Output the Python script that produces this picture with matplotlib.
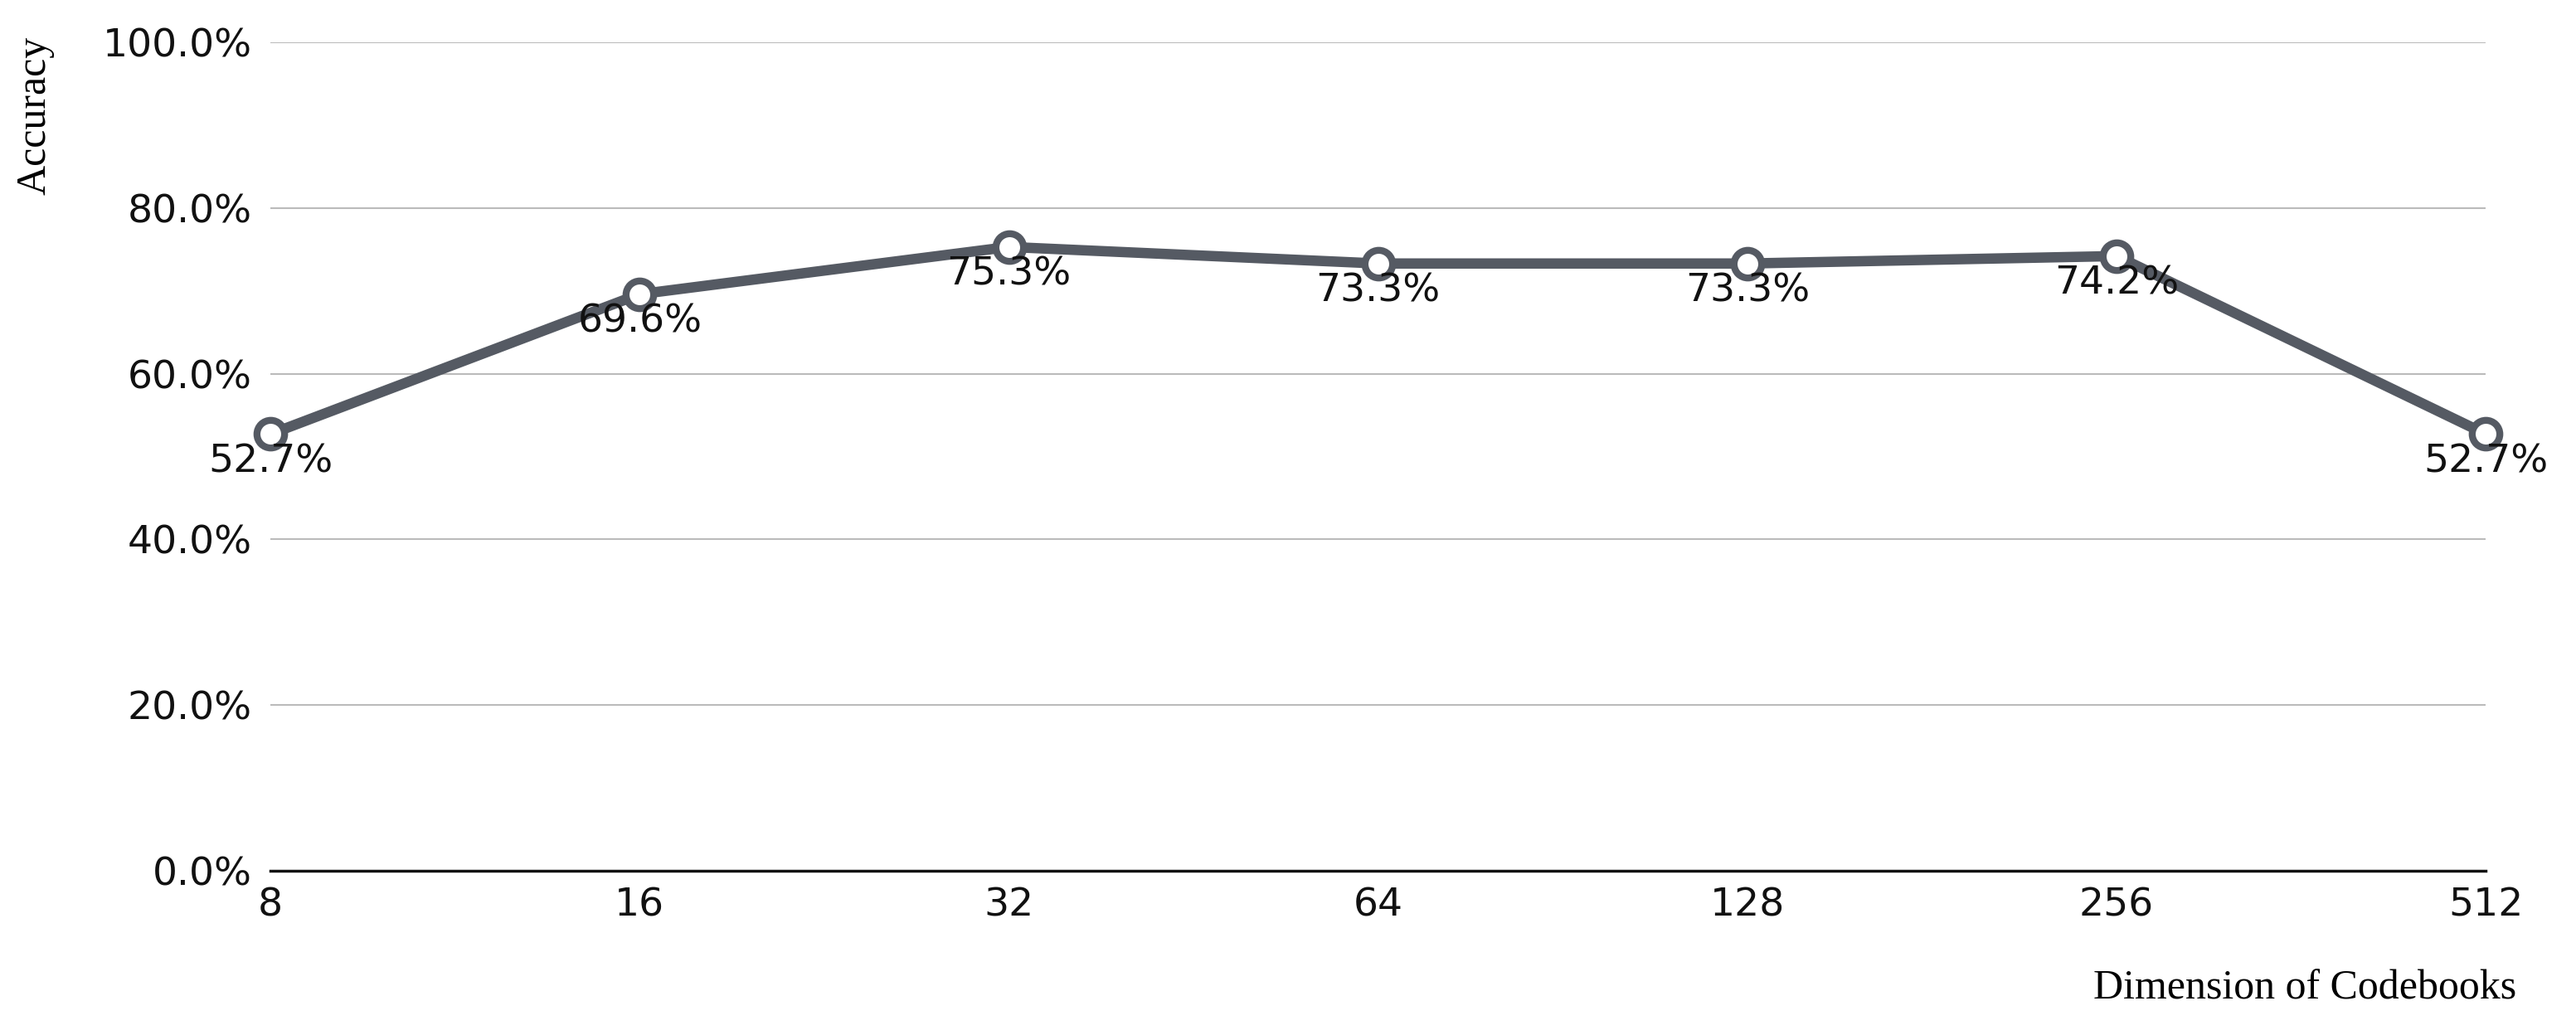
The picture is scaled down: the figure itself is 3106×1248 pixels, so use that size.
import matplotlib
matplotlib.use("Agg")
import matplotlib.pyplot as plt
from matplotlib.ticker import FuncFormatter

categories = ["8", "16", "32", "64", "128", "256", "512"]
accuracy = [52.7, 69.6, 75.3, 73.3, 73.3, 74.2, 52.7]

fig = plt.figure(figsize=(31.06, 12.48), dpi=100)
ax = fig.add_axes([0.105, 0.159, 0.86, 0.80])
x = list(range(len(categories)))
ax.plot(x, accuracy, color="#555a63", lw=9, marker="o", markersize=24,
        markerfacecolor="white", markeredgecolor="#555a63", markeredgewidth=6, zorder=3, clip_on=False)
for xi, v in zip(x, accuracy):
    ax.annotate(f"{v:.1f}%", (xi, v), xytext=(0, -8), textcoords="offset points",
                ha="center", va="top", fontsize=34, color="#111111")
ax.set_xlim(0, 6)
ax.set_ylim(0, 100)
ax.set_yticks(range(0, 101, 20))
ax.yaxis.set_major_formatter(FuncFormatter(lambda v, p: f"{v:.1f}%"))
ax.set_xticks(x)
ax.set_xticklabels(categories)
ax.tick_params(axis="both", labelsize=34, length=0, colors="#111111")
ax.tick_params(axis="x", pad=14)
ax.tick_params(axis="y", pad=16)
ax.grid(axis="y", color="#bbbbbb", lw=1.5)
ax.set_axisbelow(True)
for s in ["top", "right", "left"]:
    ax.spines[s].set_visible(False)
ax.spines["bottom"].set_linewidth(2.5)
ax.spines["bottom"].set_color("#111111")
fig.text(0.006, 0.965, "Accuracy", rotation=90, ha="left", va="top",
         fontsize=36, family="Liberation Serif")
fig.text(0.977, 0.045, "Dimension of Codebooks", ha="right", va="center",
         fontsize=36, family="Liberation Serif")
fig.savefig("out.png", dpi=100)
